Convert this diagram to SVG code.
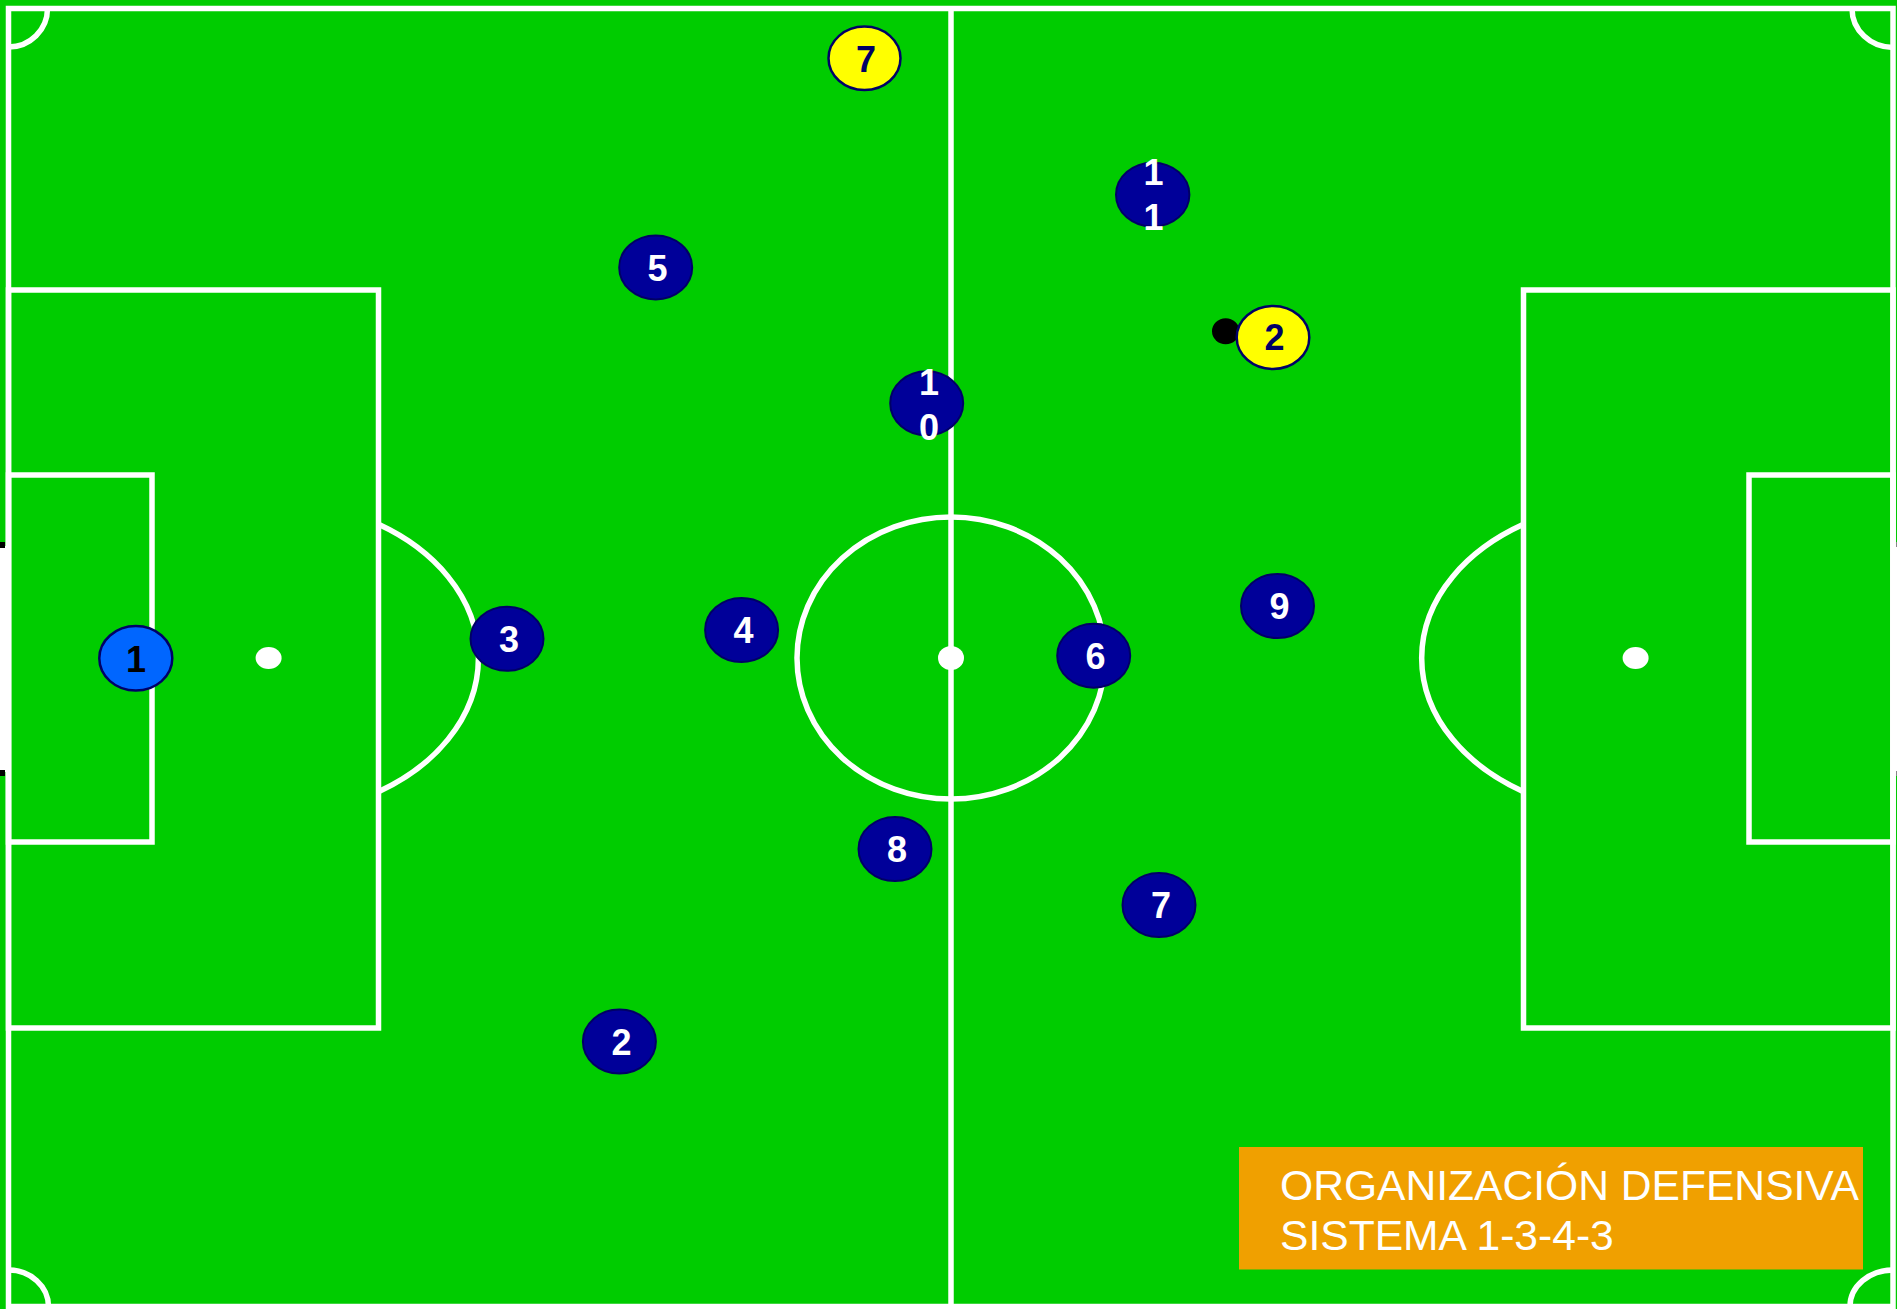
<svg xmlns="http://www.w3.org/2000/svg" width="1897" height="1309" viewBox="0 0 1897 1309">
<style>
.ln{fill:none;stroke:#FFFFFF;stroke-width:5.5}
.spot{fill:#FFFFFF}
.pb{fill:#000099;stroke:#000066;stroke-width:2}
.py{fill:#FFFF00;stroke:#000066;stroke-width:2.5}
.pg{fill:#0066FF;stroke:#000066;stroke-width:2.5}
.tw{font-family:"Liberation Sans",Arial,sans-serif;font-weight:bold;font-size:36px;fill:#FFFFFF;text-anchor:middle}
.tn{font-family:"Liberation Sans",Arial,sans-serif;font-weight:bold;font-size:36px;fill:#000066;text-anchor:middle}
.tk{font-family:"Liberation Sans",Arial,sans-serif;font-weight:bold;font-size:36px;fill:#000000;text-anchor:middle}
.title{font-family:"Liberation Sans",Arial,sans-serif;font-size:42.6px;fill:#FFFFFF}
</style>
<rect x="0" y="0" width="1897" height="1309" fill="#00CC00"/>
<g id="pitch">
  <rect x="0" y="546" width="7" height="226" fill="#FFFFFF"/>
  <rect x="0" y="542" width="5" height="6" fill="#000000"/>
  <rect x="0" y="770" width="5" height="6" fill="#000000"/>
  <rect x="1893" y="546" width="4" height="226" fill="#FFFFFF"/>
  <rect x="1895" y="542" width="2" height="5" fill="#888888"/>
  <rect x="1895" y="771" width="2" height="5" fill="#888888"/>
  <rect class="ln" x="8.5" y="8.5" width="1884.5" height="1298"/>
  <line class="ln" x1="951" y1="8.5" x2="951" y2="1306.5"/>
  <ellipse class="ln" cx="951" cy="658" rx="154" ry="141"/>
  <ellipse class="spot" cx="951" cy="658" rx="13" ry="12"/>
  <rect class="ln" x="8.5" y="290" width="370" height="738"/>
  <rect class="ln" x="8.5" y="475" width="143.5" height="367"/>
  <path class="ln" d="M378.5 524.3 A210 157 0 0 1 378.5 791.7"/>
  <ellipse class="spot" cx="268.6" cy="658" rx="13" ry="11"/>
  <rect class="ln" x="1523.5" y="290" width="369.5" height="738"/>
  <rect class="ln" x="1749" y="475" width="144" height="367"/>
  <path class="ln" d="M1523.5 524.3 A214 157 0 0 0 1523.5 791.7"/>
  <ellipse class="spot" cx="1635.6" cy="658" rx="13" ry="11"/>
  <path class="ln" d="M8.5 47 A39 38.5 0 0 0 47.5 8.5"/>
  <path class="ln" d="M1852 8.5 A41 39 0 0 0 1893 47.5"/>
  <path class="ln" d="M8.5 1270 A40 36.5 0 0 1 48.5 1306.5"/>
  <path class="ln" d="M1893 1270 A43 36.5 0 0 0 1850 1306.5"/>
</g>
<g id="connectors"></g>
<g id="ball"><ellipse cx="1225.7" cy="331.3" rx="13.7" ry="13" fill="#000000"/></g>
<g id="opp7"><ellipse class="py" cx="864.5" cy="58.3" rx="36" ry="31.7"/><text class="tn" x="866" y="71.5">7</text></g>
<g id="opp2"><ellipse class="py" cx="1273" cy="337.5" rx="36.3" ry="31.5"/><text class="tn" x="1274.5" y="350">2</text></g>
<g id="p1"><ellipse class="pg" cx="135.8" cy="658.3" rx="36.5" ry="32.3"/><text class="tk" x="136" y="671.5">1</text></g>
<g id="p11"><ellipse class="pb" cx="1152.7" cy="194.7" rx="36.7" ry="32"/><text class="tw" x="1153.5" y="185">1<tspan x="1153.5" y="230">1</tspan></text></g>
<g id="p5"><ellipse class="pb" cx="655.7" cy="267.4" rx="36.5" ry="32"/><text class="tw" x="657.5" y="280.5">5</text></g>
<g id="p10"><ellipse class="pb" cx="926.7" cy="403.3" rx="36.5" ry="32"/><text class="tw" x="929" y="395">1<tspan x="929" y="440">0</tspan></text></g>
<g id="p9"><ellipse class="pb" cx="1277.5" cy="606" rx="36.5" ry="32"/><text class="tw" x="1279.5" y="619">9</text></g>
<g id="p3"><ellipse class="pb" cx="507" cy="638.8" rx="36.5" ry="32"/><text class="tw" x="509" y="652">3</text></g>
<g id="p4"><ellipse class="pb" cx="741.6" cy="630" rx="36.5" ry="32"/><text class="tw" x="743.5" y="643">4</text></g>
<g id="p6"><ellipse class="pb" cx="1093.7" cy="655.7" rx="36.5" ry="32"/><text class="tw" x="1095.5" y="669">6</text></g>
<g id="p8"><ellipse class="pb" cx="895" cy="849" rx="36.5" ry="32"/><text class="tw" x="897" y="862">8</text></g>
<g id="p7"><ellipse class="pb" cx="1159" cy="905" rx="36.5" ry="32"/><text class="tw" x="1161" y="918">7</text></g>
<g id="p2"><ellipse class="pb" cx="619.4" cy="1041.6" rx="36.5" ry="32"/><text class="tw" x="621.5" y="1054.5">2</text></g>
<g id="legend">
  <rect x="1239" y="1147" width="624" height="122.5" fill="#F0A000"/>
  <text class="title" x="1280" y="1199.5">ORGANIZACIÓN DEFENSIVA</text>
  <text class="title" x="1280" y="1249.5">SISTEMA 1-3-4-3</text>
</g>
</svg>
